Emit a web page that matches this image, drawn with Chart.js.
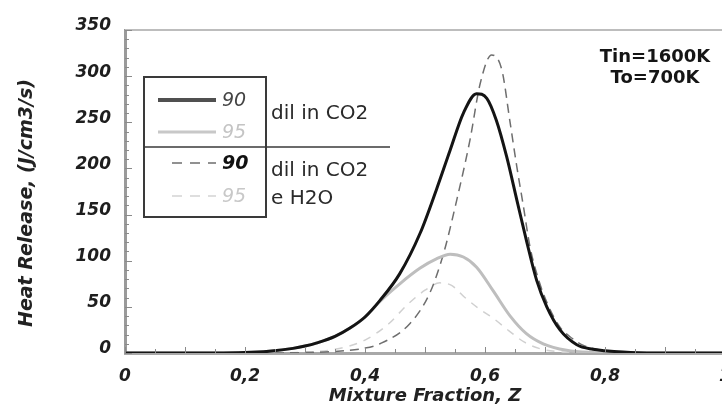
<!DOCTYPE html>
<html>
<head>
<meta charset="utf-8">
<script src="https://cdn.jsdelivr.net/npm/chart.js@4.4.1/dist/chart.umd.min.js"></script>
<style>
  html, body { margin: 0; padding: 0; background: #fff; overflow: hidden; width: 722px; height: 407px; }
  #wrap { position: absolute; left: 0; top: 0; width: 745px; height: 407px; }
</style>
</head>
<body>
<div id="wrap"><canvas id="heatChart" width="745" height="407"></canvas></div>
<script>
// ---------------------------------------------
// Heat release vs mixture fraction
// ---------------------------------------------

// 90, diluted in CO2 (thick black)
const zCo2_90  = [0, 0.15, 0.2, 0.24, 0.28, 0.3, 0.32, 0.35, 0.375, 0.4, 0.425, 0.458, 0.492, 0.519, 0.542, 0.564, 0.586, 0.603, 0.619, 0.636, 0.653, 0.669, 0.686, 0.703, 0.725, 0.753, 0.78, 0.8, 0.83, 0.87, 1.0];
const hrCo2_90 = [0, 0, 0.5, 2, 5, 7.5, 11, 18, 27, 39, 57, 86, 130, 177, 220, 260, 281, 276, 252, 213, 166, 122, 79, 50, 25, 9, 4, 2.5, 1, 0, 0];

// 95, diluted in CO2 (thick light grey)
const zCo2_95  = [0, 0.15, 0.2, 0.24, 0.28, 0.3, 0.32, 0.35, 0.375, 0.4, 0.425, 0.458, 0.492, 0.519, 0.542, 0.564, 0.586, 0.614, 0.642, 0.669, 0.697, 0.736, 0.78, 0.82, 1.0];
const hrCo2_95 = [0, 0, 0.5, 2, 5, 7.5, 11, 18, 27, 39, 56, 75, 92, 102, 107, 104, 93, 67, 40, 21, 10, 3, 0.5, 0, 0];

// 90, diluted in CO2 + H2O (dark dashed)
const zMix_90  = [0, 0.25, 0.3, 0.347, 0.397, 0.425, 0.475, 0.508, 0.531, 0.553, 0.575, 0.592, 0.611, 0.628, 0.642, 0.653, 0.664, 0.675, 0.69, 0.705, 0.725, 0.745, 0.765, 0.78, 0.8, 0.85, 0.9, 1.0];
const hrMix_90 = [0, 0, 0.5, 1.5, 5, 10, 32, 65, 108, 166, 231, 292, 323, 307, 249, 202, 159, 115, 78, 52, 28, 16, 8, 5, 2.5, 0.5, 0, 0];

// 95, diluted in CO2 + H2O (light dashed)
const zMix_95  = [0, 0.25, 0.3, 0.35, 0.4, 0.44, 0.47, 0.5, 0.525, 0.545, 0.565, 0.59, 0.613, 0.64, 0.665, 0.69, 0.72, 0.76, 1.0];
const hrMix_95 = [0, 0, 1, 4, 14, 32, 52, 68, 76, 73, 61, 48, 38, 24, 12, 5, 1.5, 0, 0];

const legendNumbers = ['90', '95', '90', '95'];
const legendGroupA = ['dil in CO2'];
const legendGroupB = ['dil in CO2', 'e H2O'];
const noteLines = ['Tin=1600K', 'To=700K'];
const yTitle = 'Heat Release, (J/cm3/s)';
const xTitle = 'Mixture Fraction, Z';

const FONT = "'DejaVu Sans', 'Liberation Sans', sans-serif";
const ctx = document.getElementById('heatChart');

function pts(xs, ys) {
    return xs.map((x, i) => ({ x: x, y: ys[i] }));
}

// frame, inward ticks, legend box, y title and the temperature note
const framePlugin = {
    id: 'frame',
    afterDraw(chart) {
        const c = chart.ctx;
        const a = chart.chartArea;
        const xs = chart.scales.x;
        const ys = chart.scales.y;
        c.save();

        // top border
        c.strokeStyle = '#bdbdbd';
        c.lineWidth = 2;
        c.beginPath();
        c.moveTo(a.left, a.top);
        c.lineTo(a.right + 20, a.top);
        c.stroke();

        // inward tick marks
        c.strokeStyle = '#8a8a8a';
        c.lineWidth = 1;
        c.beginPath();
        for (let v = 0; v <= 350; v += 10) {
            const py = Math.round(ys.getPixelForValue(v)) + 0.5;
            const len = v % 50 === 0 ? 7 : 4;
            c.moveTo(a.left, py);
            c.lineTo(a.left + len, py);
        }
        for (let i = 0; i <= 20; i++) {
            const px = Math.round(xs.getPixelForValue(i * 0.05)) + 0.5;
            const len = i % 2 === 0 ? 6 : 4;
            c.moveTo(px, a.bottom);
            c.lineTo(px, a.bottom - len);
        }
        c.stroke();

        // y axis title
        c.save();
        c.translate(27, 203);
        c.rotate(-Math.PI / 2);
        c.fillStyle = '#222';
        c.font = 'italic bold 19px ' + FONT;
        c.textAlign = 'center';
        c.textBaseline = 'middle';
        c.fillText(yTitle, 0, 0);
        c.restore();

        // legend box
        c.strokeStyle = '#3a3a3a';
        c.lineWidth = 2;
        c.strokeRect(144, 77, 122, 140);
        c.lineWidth = 1.5;
        c.beginPath();
        c.moveTo(144, 147);
        c.lineTo(390, 147);
        c.stroke();

        const samples = [
            { y: 100, color: '#505050', width: 4, dash: [] },
            { y: 132, color: '#c8c8c8', width: 3, dash: [] },
            { y: 163, color: '#6e6e6e', width: 1.5, dash: [10, 8] },
            { y: 196, color: '#d4d4d4', width: 1.5, dash: [10, 8] }
        ];
        const numStyle = [
            { color: '#444', font: 'italic 19px ' + FONT },
            { color: '#c4c4c4', font: 'italic 19px ' + FONT },
            { color: '#111', font: 'italic bold 19px ' + FONT },
            { color: '#c8c8c8', font: 'italic 19px ' + FONT }
        ];
        samples.forEach((s, i) => {
            c.strokeStyle = s.color;
            c.lineWidth = s.width;
            c.setLineDash(s.dash);
            c.beginPath();
            c.moveTo(s.dash.length ? 172 : 158, s.y);
            c.lineTo(216, s.y);
            c.stroke();
            c.setLineDash([]);
            c.fillStyle = numStyle[i].color;
            c.font = numStyle[i].font;
            c.textAlign = 'left';
            c.textBaseline = 'middle';
            c.fillText(legendNumbers[i], 222, s.y + 1);
        });

        c.fillStyle = '#2a2a2a';
        c.font = '20px ' + FONT;
        c.textAlign = 'left';
        c.textBaseline = 'middle';
        legendGroupA.forEach((t, i) => c.fillText(t, 271, 114 + i * 28));
        legendGroupB.forEach((t, i) => c.fillText(t, 271, 171 + i * 28));

        // temperature note
        c.fillStyle = '#151515';
        c.font = 'bold 18px ' + FONT;
        c.textAlign = 'center';
        noteLines.forEach((t, i) => c.fillText(t, 655, 57 + i * 21));

        c.restore();
    }
};

const tickFont = { family: FONT, size: 17, style: 'italic', weight: 'bold' };
const titleFont = { family: FONT, size: 18, style: 'italic', weight: 'bold' };

new Chart(ctx, {
    type: 'line',
    data: {
        datasets: [
            { label: '90 dil in CO2', data: pts(zCo2_90, hrCo2_90), borderColor: '#141414', borderWidth: 3 },
            { label: '95 dil in CO2', data: pts(zCo2_95, hrCo2_95), borderColor: '#bebebe', borderWidth: 3 },
            { label: '90 dil in CO2 e H2O', data: pts(zMix_90, hrMix_90), borderColor: '#6e6e6e', borderWidth: 1.5, borderDash: [9, 6] },
            { label: '95 dil in CO2 e H2O', data: pts(zMix_95, hrMix_95), borderColor: '#d0d0d0', borderWidth: 1.5, borderDash: [8, 7] }
        ]
    },
    options: {
        responsive: false,
        animation: false,
        elements: {
            point: { radius: 0 },
            line: { cubicInterpolationMode: 'monotone', fill: false }
        },
        layout: { padding: { left: 0, right: 20, top: 30, bottom: 0 } },
        plugins: { legend: { display: false }, tooltip: { enabled: false } },
        scales: {
            x: {
                type: 'linear',
                min: 0,
                max: 1,
                grid: { display: false, drawTicks: false },
                border: { display: true, color: '#a8a8a8', width: 3 },
                ticks: {
                    stepSize: 0.2,
                    padding: 13,
                    color: '#1e1e1e',
                    font: tickFont,
                    maxRotation: 0,
                    callback: v => String(Math.round(v * 10) / 10).replace('.', ',')
                },
                title: { display: true, text: xTitle, color: '#222', font: titleFont, padding: { top: 0, bottom: 0 } },
                afterFit: s => { s.height = 54; }
            },
            y: {
                min: 0,
                max: 350,
                grid: { display: false, drawTicks: false },
                border: { display: true, color: '#9a9a9a', width: 3 },
                ticks: {
                    stepSize: 50,
                    padding: 14,
                    labelOffset: -4,
                    color: '#1e1e1e',
                    font: tickFont
                },
                afterFit: s => { s.width = 125; }
            }
        }
    },
    plugins: [framePlugin]
});
</script>
</body>
</html>
